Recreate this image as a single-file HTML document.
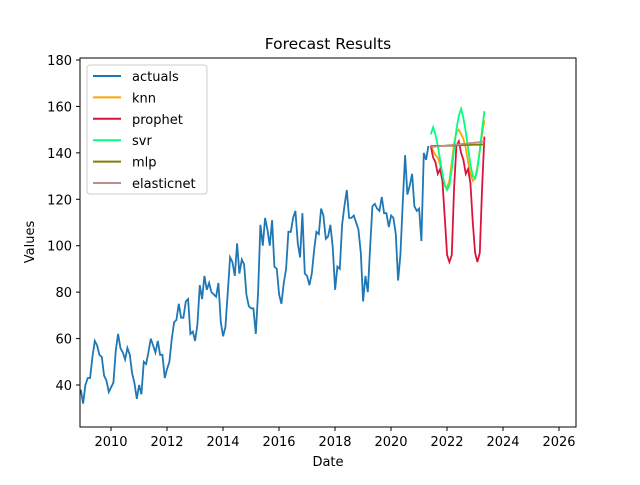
<!DOCTYPE html>
<html><head><meta charset="utf-8"><style>body{margin:0;background:#fff}svg{font-family:"DejaVu Sans","Liberation Sans",sans-serif}</style></head>
<body>
<svg id="c" width="640" height="480" xmlns="http://www.w3.org/2000/svg">
<rect width="640" height="480" fill="#fff"/>
<text x="328" y="49" font-size="15.5" text-anchor="middle">Forecast Results</text>
<g id="plot"></g>
<rect x="80" y="58" width="496" height="369" fill="none" stroke="#000" stroke-width="1"/>
<text x="328" y="466" font-size="13" text-anchor="middle">Date</text>
<text x="34" y="242" font-size="13" text-anchor="middle" transform="rotate(-90 34 242)">Values</text>
<g id="legend"></g>
</svg>
<script>
const actuals=[38,32,40,43,43,52,59,57,53,52,44,42,
37,39,41,55,62,56,54,51,56,53,45,41,
34,40,36,50,49,54,60,57,54,59,53,53,
43,47,50,60,67,68,75,69,69,76,77,62,
63,59,66,83,77,87,81,84,80,79,78,84,
67,61,65,80,95,93,87,101,88,94,92,79,
74,73,73,62,80,109,100,112,107,100,111,91,
90,79,75,84,90,106,106,112,115,101,95,114,
88,87,83,88,98,106,105,116,113,103,104,109,
99,81,91,90,109,117,124,112,112,113,110,107,
97,76,87,80,99,117,118,116,115,121,114,114,
108,113,112,105,85,96,119,139,122,126,131,117,
115,116,102,140,137,143];
const actualsStart=2008.92;
const fcStart=2021.42;
const knn=[143,141,139,138,135,130,126,125,128,136,144,149,150,148,146,142,136,131,128,129,134,141,148,154];
const prophet=[143,138,136,131,133,128,112,96,93,96,125,143,145,140,137,131,133,127,110,97,93,97,125,147];
const svr=[148,151,148,143,137,131,126,124,126,133,142,150,156,159,155,149,142,135,130,129,133,141,150,158];
const mlp=[143,143,143,143,143,143,143,143,143.1,143.1,143.2,143.2,143.3,143.3,143.3,143.4,143.4,143.4,143.5,143.5,143.5,143.5,143.6,143.6];
const elasticnet=[142.5,142.6,142.7,142.8,142.9,143,143.1,143.2,143.3,143.4,143.5,143.6,143.7,143.8,143.9,144,144.1,144.2,144.3,144.4,144.5,144.6,144.8,145];
const xTicks=[2010,2012,2014,2016,2018,2020,2022,2024,2026];
const yTicks=[40,60,80,100,120,140,160,180];
const NS='http://www.w3.org/2000/svg';
const X=t=>111+(t-2010)*28;
const Y=v=>385-(v-40)*2.3214;
const svg=document.getElementById('c'),plot=document.getElementById('plot');
const cp=document.createElementNS(NS,'clipPath');cp.id='clip';
const cr=document.createElementNS(NS,'rect');cr.setAttribute('x',80);cr.setAttribute('y',58);cr.setAttribute('width',496);cr.setAttribute('height',369);cp.appendChild(cr);svg.appendChild(cp);
plot.setAttribute('clip-path','url(#clip)');
function line(arr,start,color,name){
  const p=document.createElementNS(NS,'polyline');
  p.setAttribute('points',arr.map((v,i)=>X(start+i/12).toFixed(1)+','+Y(v).toFixed(1)).join(' '));
  p.setAttribute('fill','none');p.setAttribute('stroke',color);p.setAttribute('stroke-width',1.8);
  
  
  plot.appendChild(p);
}
line(actuals,actualsStart,'#1f77b4','actuals-line');
line(knn,fcStart,'#ffa500','knn-line');
line(prophet,fcStart,'#dc143c','prophet-line');
line(svr,fcStart,'#00ff7f','svr-line');
line(mlp,fcStart,'#808000','mlp-line');
line(elasticnet,fcStart,'#bc8f8f','elasticnet-line');
xTicks.forEach(t=>{
  const x=X(t);
  const l=document.createElementNS(NS,'line');l.setAttribute('x1',x);l.setAttribute('x2',x);l.setAttribute('y1',427);l.setAttribute('y2',431);l.setAttribute('stroke','#000');
  
  
  svg.appendChild(l);
  const tx=document.createElementNS(NS,'text');tx.setAttribute('x',x);tx.setAttribute('y',446);tx.setAttribute('font-size',13);tx.setAttribute('text-anchor','middle');tx.textContent=t;
  
  
  svg.appendChild(tx);
});
yTicks.forEach(v=>{
  const y=Y(v);
  const l=document.createElementNS(NS,'line');l.setAttribute('x1',76);l.setAttribute('x2',80);l.setAttribute('y1',y);l.setAttribute('y2',y);l.setAttribute('stroke','#000');
  
  
  svg.appendChild(l);
  const tx=document.createElementNS(NS,'text');tx.setAttribute('x',72);tx.setAttribute('y',y+5);tx.setAttribute('font-size',13);tx.setAttribute('text-anchor','end');tx.textContent=v;
  
  
  svg.appendChild(tx);
});
const lg=document.getElementById('legend');
const names=['actuals','knn','prophet','svr','mlp','elasticnet'];
const colors=['#1f77b4','#ffa500','#dc143c','#00ff7f','#808000','#bc8f8f'];
const box=document.createElementNS(NS,'rect');box.setAttribute('x',87);box.setAttribute('y',65);box.setAttribute('width',120);box.setAttribute('height',129);box.setAttribute('rx',3);box.setAttribute('fill','#fff');box.setAttribute('fill-opacity',0.8);box.setAttribute('stroke','#ccc');


lg.appendChild(box);
names.forEach((n,i)=>{
  const y=76+i*21.4;
  const l=document.createElementNS(NS,'line');l.setAttribute('x1',93);l.setAttribute('x2',121);l.setAttribute('y1',y);l.setAttribute('y2',y);l.setAttribute('stroke',colors[i]);l.setAttribute('stroke-width',2);
  
  
  lg.appendChild(l);
  const tx=document.createElementNS(NS,'text');tx.setAttribute('x',132);tx.setAttribute('y',y+5);tx.setAttribute('font-size',13);tx.textContent=n;
  
  
  lg.appendChild(tx);
});
</script>
</body></html>
